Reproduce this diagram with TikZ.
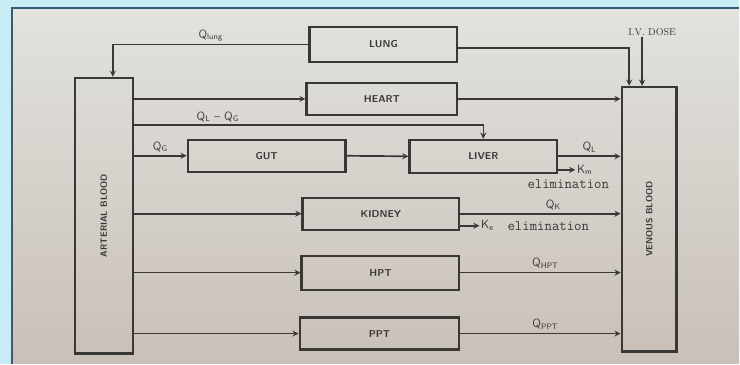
\documentclass[tikz,border=0pt]{standalone}
\usepackage{amsmath}
\usepackage{tikz}
\usetikzlibrary{arrows,positioning}

\definecolor{frameblue}{HTML}{C8ECF4}
\definecolor{edgeblue}{HTML}{2E5E78}
\definecolor{ink}{HTML}{3A3836}
\definecolor{pagetop}{HTML}{E2E2DE}
\definecolor{pagebot}{HTML}{C9C0B8}

\begin{document}
\begin{tikzpicture}[x=1pt,y=-1pt,>=stealth,
    organ/.style={draw=ink,line width=2.2pt,inner sep=0pt,font=\sffamily\bfseries,text=ink},
    blood/.style={organ,rotate=90,font=\sffamily\bfseries\small},
    flow/.style={->,ink,line width=1.7pt},
    lbl/.style={font=\sffamily\large,text=ink,inner sep=1pt},
    elim/.style={font=\ttfamily\Large,text=ink,inner sep=0pt}]
    % page and photo frame
    \fill[frameblue] (0,0) rectangle (740,364);
    \shade[top color=pagetop,bottom color=pagebot] (12,8) rectangle (740,364);
    \draw[edgeblue,line width=2pt] (12,364)--(12,8)--(740,8);
    \useasboundingbox (0,0) rectangle (740,364);

    % compartments
    \node[blood,minimum width=276,minimum height=58] (art) at (104,216) {ARTERIAL BLOOD};
    \node[blood,minimum width=265,minimum height=55] (ven) at (650,219.5) {VENOUS BLOOD};
    \node[organ,minimum width=148,minimum height=35] (lung) at (384,44.5) {LUNG};
    \node[organ,minimum width=151,minimum height=32] (heart) at (382.5,99) {HEART};
    \node[organ,minimum width=158,minimum height=32] (gut) at (267,156) {GUT};
    \node[organ,minimum width=148,minimum height=33] (liver) at (484,156.5) {LIVER};
    \node[organ,minimum width=157,minimum height=32] (kidney) at (381.5,214) {KIDNEY};
    \node[organ,minimum width=158,minimum height=34] (hpt) at (381,273) {HPT};
    \node[organ,minimum width=160,minimum height=32] (ppt) at (380,334) {PPT};

    % free ends
    \coordinate (ivtop) at (643,37);
    \coordinate (kmend) at (576,170);
    \coordinate (keend) at (480,226);
    \node[lbl,font=\rmfamily,anchor=south] (iv) at ([xshift=10]ivtop) {I.V. DOSE};

    % lung loop
    \draw[flow] (lung.west) -| ([xshift=9]art.east) node[lbl,pos=0.25,above=1pt] {Q\textsubscript{lung}};
    \draw[flow] ([yshift=-3.5]lung.east) -| ([xshift=-20]ven.east);
    \draw[flow] (ivtop) -- ([xshift=-7]ven.east);

    % heart
    \draw[flow] (art.south |- heart.west) -- (heart.west);
    \draw[flow] (heart.east) -- (ven.north |- heart.east);

    % gut and liver
    \draw[flow] (art.south |- 0,125) -| (liver.north) node[lbl,pos=0.12,above=1pt] {Q\textsubscript{L} -- Q\textsubscript{G}};
    \draw[flow] (art.south |- gut.west) -- (gut.west) node[lbl,midway,above=2pt] {Q\textsubscript{G}};
    \draw[flow] (gut.east) -- (liver.west);
    \draw[flow] (liver.east) -- (ven.north |- liver.east) node[lbl,midway,above=2pt] {Q\textsubscript{L}};
    \draw[flow] (liver.east |- kmend) -- (kmend) node[lbl,right] {K\textsubscript{m}};
    \node[elim] (elimm) at (569,184) {elimination};

    % kidney
    \draw[flow] (art.south |- kidney.west) -- (kidney.west);
    \draw[flow] (kidney.east) -- (ven.north |- kidney.east) node[lbl,pos=0.58,above=2pt] {Q\textsubscript{K}};
    \draw[flow] (kidney.east |- keend) -- (keend) node[lbl,right] (ke) {K\textsubscript{e}};
    \node[elim,right=12pt of ke.east] (elimk) {elimination};

    % tissues
    \draw[flow] (art.south |- hpt.west) -- (hpt.west);
    \draw[flow] (hpt.east) -- (ven.north |- hpt.east) node[lbl,pos=0.53,above=2pt] {Q\textsubscript{HPT}};
    \draw[flow] (art.south |- ppt.west) -- (ppt.west);
    \draw[flow] (ppt.east) -- (ven.north |- ppt.east) node[lbl,pos=0.53,above=2pt] {Q\textsubscript{PPT}};
\end{tikzpicture}
\end{document}
